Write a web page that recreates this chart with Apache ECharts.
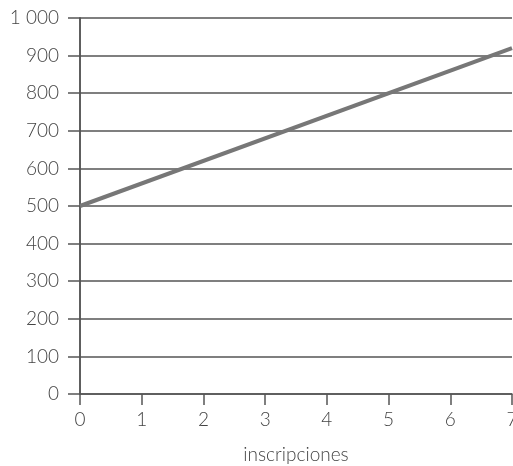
<!DOCTYPE html>
<html>
<head>
<meta charset="utf-8">
<script src="https://cdn.jsdelivr.net/npm/echarts@6/dist/echarts.min.js"></script>
<style>
  html, body { margin: 0; padding: 0; background: #fff; }
  #chart { width: 513px; height: 466px; }
</style>
</head>
<body>
<div id="chart"></div>
<script>
  // line: starts at 500, reaches ~920 at x = 7
  var xValues = [0, 7]
  var yValues = [500, 920]
  var xTicks = [0, 1, 2, 3, 4, 5, 6, 7]
  var yTicks = [0, 100, 200, 300, 400, 500, 600, 700, 800, 900, 1000]
  var xName = 'inscripciones'

  var points = xValues.map(function (x, i) { return [x, yValues[i]] })
  var fontFamily = 'Lato, "Open Sans", sans-serif'
  var axisColor = '#555'
  var textColor = '#444'

  var chart = echarts.init(document.getElementById('chart'))
  var option = {
    animation: false,
    grid: { left: 80, right: 1, top: 18, bottom: 72, containLabel: false, outerBoundsMode: 'none' },
    xAxis: {
      type: 'value',
      min: xTicks[0],
      max: xTicks[xTicks.length - 1],
      interval: 1,
      name: xName,
      nameLocation: 'middle',
      nameGap: 51,
      nameTextStyle: { color: textColor, fontSize: 19, fontFamily: fontFamily, fontWeight: 300 },
      axisLine: { show: true, onZero: false, lineStyle: { color: axisColor, width: 1.5 } },
      axisTick: { show: true, length: 11, lineStyle: { color: axisColor, width: 1.5 } },
      axisLabel: { color: textColor, fontSize: 19, fontFamily: fontFamily, fontWeight: 300, margin: 16, showMaxLabel: true },
      splitLine: { show: false }
    },
    yAxis: [{
      type: 'value',
      min: yTicks[0],
      max: yTicks[yTicks.length - 1],
      interval: 100,
      axisLine: { show: true, onZero: false, lineStyle: { color: axisColor, width: 1.5 } },
      axisTick: { show: true, length: 12, lineStyle: { color: axisColor, width: 1.5 } },
      axisLabel: {
        color: textColor, fontSize: 19, fontFamily: fontFamily, fontWeight: 300, margin: 21,
        formatter: function (v) { return v >= 1000 ? '1 000' : String(v) }
      },
      splitLine: { show: true, lineStyle: { color: axisColor, width: 1.5 } }
    }, {
      type: 'value',
      position: 'right',
      min: yTicks[0],
      max: yTicks[yTicks.length - 1],
      interval: 100,
      axisLine: { show: true, lineStyle: { color: axisColor, width: 1.5 } },
      axisTick: { show: false },
      axisLabel: { show: false },
      splitLine: { show: false }
    }],
    series: [{
      type: 'line',
      data: points,
      showSymbol: false,
      lineStyle: { color: '#777', width: 4 },
      clip: true
    }]
  }
  chart.setOption(option)
</script>
</body>
</html>
